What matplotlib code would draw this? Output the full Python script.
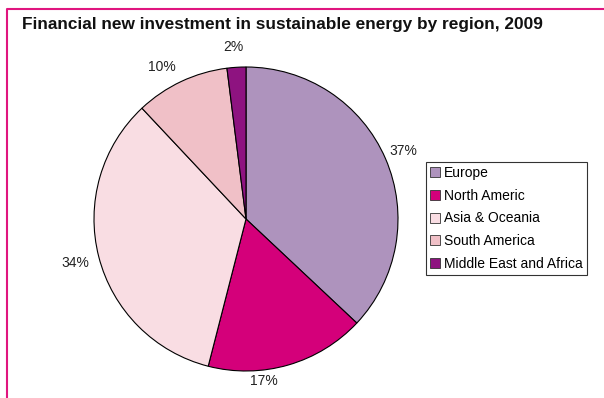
import numpy as np
import matplotlib.pyplot as plt
from matplotlib.lines import Line2D

plt.rcParams['font.family'] = ['Liberation Sans', 'DejaVu Sans']

# Share of financial new investment per region, clockwise from 12 o'clock
regions = ['Europe', 'North Americ', 'Asia & Oceania', 'South America', 'Middle East and Africa']
shares = [37, 17, 34, 10, 2]
colors = ['#AE93BD', '#D4007A', '#F9DDE3', '#F0C0C7', '#8E1380']

# placement of each percentage label: distance in pie radii, angle nudge in degrees
label_r = [1.13, 1.07, 1.16, 1.14, 1.135]
label_shift = [0, -10, 0, 3.7, 0.7]

fig = plt.figure(figsize=(6.04, 3.98), dpi=100)
ax = fig.add_axes([0, 0, 1, 1])
ax.set_xlim(0, 604)
ax.set_ylim(398, 0)
ax.axis('off')

# magenta frame on top and left
ax.plot([6.5, 6.5, 604], [398, 8.5, 8.5], color='#E0157F', lw=1.5, solid_capstyle='butt')

fig.text(22 / 604, 1 - 24 / 398, 'Financial new investment in sustainable energy by region, 2009',
         fontsize=12.4, fontweight='bold', va='center', ha='left', color='#111111')

cx, cy, r = 246, 219, 152
pax = fig.add_axes([(cx - r) / 604, 1 - (cy + r) / 398, 2 * r / 604, 2 * r / 398])
wedges, _ = pax.pie(shares, colors=colors, startangle=90, counterclock=False,
                    wedgeprops=dict(edgecolor='black', linewidth=0.8))
pax.set_aspect('auto')
pax.set_xlim(-1, 1)
pax.set_ylim(-1, 1)

for w, s, d, da in zip(wedges, shares, label_r, label_shift):
    ang = np.deg2rad((w.theta1 + w.theta2) / 2 + da)
    pax.text(d * np.cos(ang), d * np.sin(ang), f'{s}%', fontsize=10,
             ha='center', va='center', color='#222222', clip_on=False)

handles = [Line2D([], [], marker='s', linestyle='none', markersize=6.5,
                  markerfacecolor=c, markeredgecolor='#333333', markeredgewidth=0.6)
           for c in colors]
leg = fig.legend(handles, regions, loc='upper left',
                 bbox_to_anchor=(426 / 604, 1 - 162 / 398), fontsize=10,
                 frameon=True, fancybox=False, edgecolor='black',
                 handlelength=0.7, handletextpad=0.3, labelspacing=0.62,
                 borderpad=0.3, borderaxespad=0)
leg.get_frame().set_linewidth(0.8)

fig.savefig('out.png', dpi=100)
